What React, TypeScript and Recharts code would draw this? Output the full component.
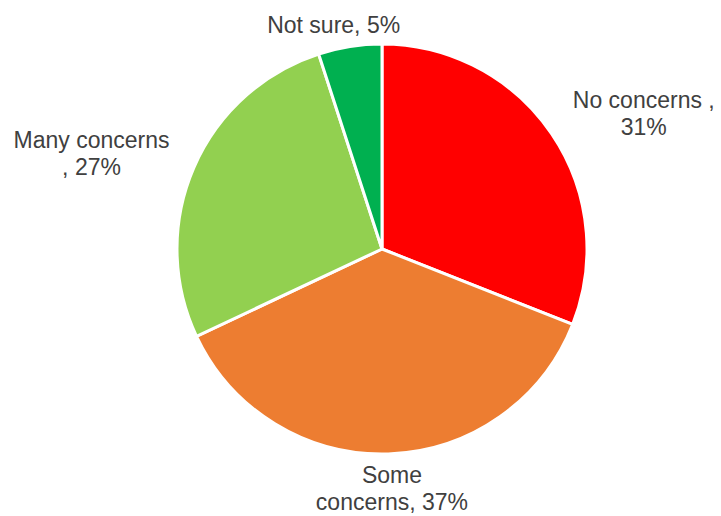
import { PieChart, Pie, Cell } from 'recharts';

const categories = ['No concerns', 'Some concerns', 'Many concerns', 'Not sure'];
const shares = [31, 37, 27, 5];
const labelLines = [
  ['No concerns ,', '31%'],
  ['Some', 'concerns, 37%'],
  ['Many concerns', ', 27%'],
  ['Not sure, 5%'],
];
const sliceColors = ['#FF0000', '#ED7D31', '#92D050', '#00B050'];

const data = categories.map((name, i) => ({ name, value: shares[i] }));

const RAD = Math.PI / 180;
const FONT_SIZE = 23;
const LINE_H = 27;
const CHAR_W = 12.5;

// places each label just outside the slice, pushed out along the mid angle
function renderLabel(props: any) {
  const { cx, cy, midAngle, outerRadius, index } = props;
  const lines = labelLines[index];
  const dx = Math.cos(-midAngle * RAD);
  const dy = Math.sin(-midAngle * RAD);
  const px = cx + (outerRadius + 14) * dx;
  const py = cy + (outerRadius + 8) * dy;
  const w = Math.max(...lines.map((l) => l.length)) * CHAR_W;
  const h = lines.length * LINE_H;
  const bx = px + dx * w * 0.6;
  const by = py + (dy * h) / 2;
  const top = by - h / 2;
  return (
    <text
      x={bx}
      y={top}
      textAnchor="middle"
      fill="#404040"
      fontSize={FONT_SIZE}
      fontFamily="'Liberation Sans', Arial, sans-serif"
    >
      {lines.map((l, i) => (
        <tspan key={i} x={bx} y={top + LINE_H * i + 21}>
          {l}
        </tspan>
      ))}
    </text>
  );
}

export default function App() {
  return (
    <div style={{ position: 'absolute', left: 0, top: 0, width: 721, height: 516, background: '#fff' }}>
      <PieChart width={721} height={516} margin={{ top: 0, right: 0, bottom: 0, left: 0 }}>
        <Pie
          data={data}
          dataKey="value"
          nameKey="name"
          cx={382}
          cy={249}
          outerRadius={205}
          startAngle={90}
          endAngle={-270}
          stroke="#fff"
          strokeWidth={3}
          label={renderLabel}
          labelLine={false}
          isAnimationActive={false}
        >
          {data.map((entry, index) => (
            <Cell key={`cell-${index}`} fill={sliceColors[index]} />
          ))}
        </Pie>
      </PieChart>
    </div>
  );
}
